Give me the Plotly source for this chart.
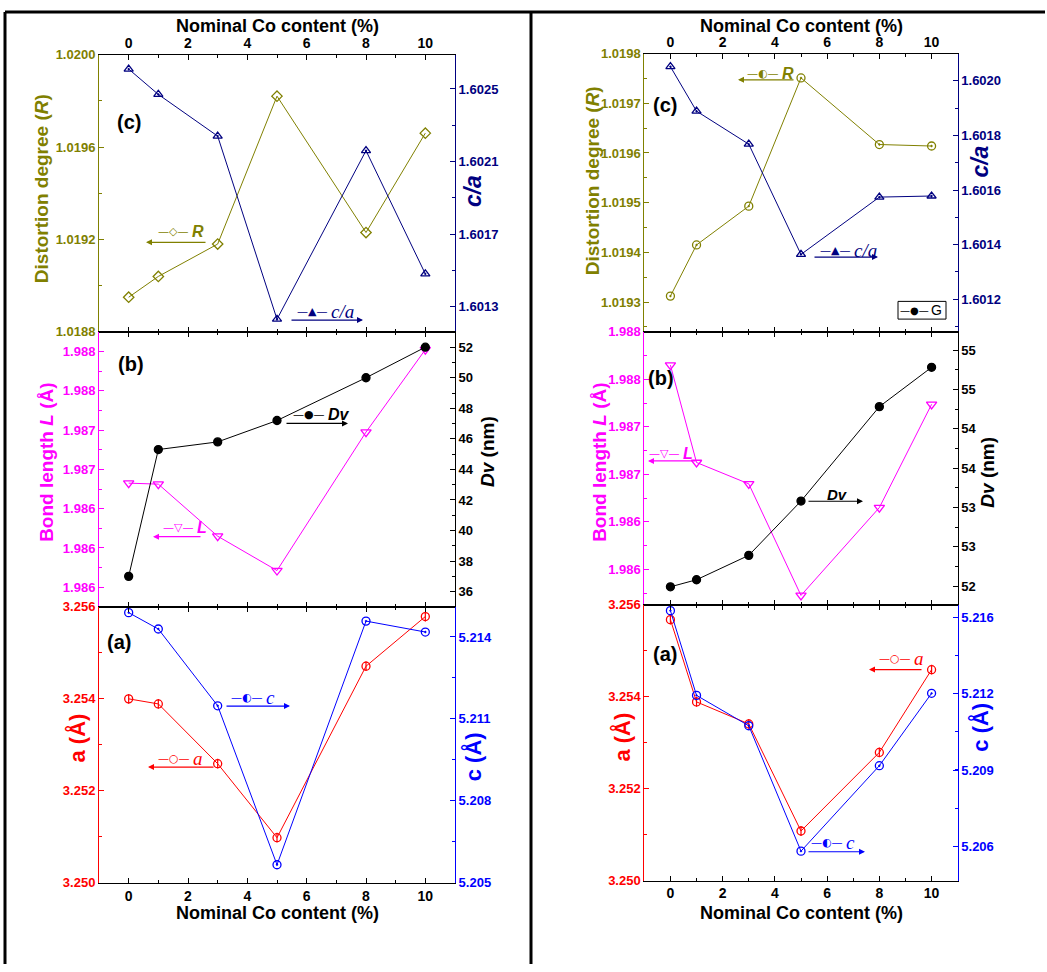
import plotly.graph_objects as go

W, H = 1047, 972

# ---------------- data ----------------
co = [0, 1, 3, 5, 8, 10]

# left column (sample set 1)
R_left = [1.01895, 1.01904, 1.01918, 1.01982, 1.01923, 1.01966]
ca_left = [1.60261, 1.60247, 1.60224, 1.60123, 1.60216, 1.60148]
L_left = [1.98666, 1.98665, 1.98612, 1.98577, 1.98718, 1.98802]
Dv_left = [37.0, 45.3, 45.8, 47.2, 50.0, 52.0]
a_left = [3.25400, 3.25389, 3.25259, 3.25098, 3.25471, 3.25579]
c_left = [5.21489, 5.21429, 5.21148, 5.20566, 5.21458, 5.21418]

# right column (sample set 2)
R_right = [1.019312, 1.019415, 1.019493, 1.019751, 1.019617, 1.019614]
ca_right = [1.602052, 1.601889, 1.601768, 1.601364, 1.601574, 1.601578]
L_right = [1.98772, 1.98690, 1.98672, 1.98578, 1.98652, 1.98739]
Dv_right = [51.99, 52.08, 52.39, 53.08, 54.28, 54.78]
a_right = [3.25568, 3.25389, 3.25341, 3.25108, 3.25279, 3.25459]
c_right = [5.21611, 5.21240, 5.21107, 5.20558, 5.20932, 5.21249]

# tick values / labels
x_ticks = [0, 2, 4, 6, 8, 10]
R_left_ticks = [1.0188, 1.0192, 1.0196, 1.0200]
R_left_labels = ["1.0188", "1.0192", "1.0196", "1.0200"]
ca_left_ticks = [1.6013, 1.6017, 1.6021, 1.6025]
ca_left_labels = ["1.6013", "1.6017", "1.6021", "1.6025"]
L_left_ticks = [1.9856, 1.9860, 1.9864, 1.9868, 1.9872, 1.9876, 1.9880]
L_left_labels = ["1.986", "1.986", "1.986", "1.987", "1.987", "1.988", "1.988"]
Dv_left_ticks = [36, 38, 40, 42, 44, 46, 48, 50, 52]
Dv_left_labels = ["36", "38", "40", "42", "44", "46", "48", "50", "52"]
a_ticks = [3.250, 3.252, 3.254, 3.256]
a_labels = ["3.250", "3.252", "3.254", "3.256"]
c_left_ticks = [5.205, 5.208, 5.211, 5.214]
c_left_labels = ["5.205", "5.208", "5.211", "5.214"]

R_right_ticks = [1.0193, 1.0194, 1.0195, 1.0196, 1.0197, 1.0198]
R_right_labels = ["1.0193", "1.0194", "1.0195", "1.0196", "1.0197", "1.0198"]
ca_right_ticks = [1.6012, 1.6014, 1.6016, 1.6018, 1.6020]
ca_right_labels = ["1.6012", "1.6014", "1.6016", "1.6018", "1.6020"]
L_right_ticks = [1.9860, 1.9864, 1.9868, 1.9872, 1.9876, 1.9880]
L_right_labels = ["1.986", "1.986", "1.987", "1.987", "1.988", "1.988"]
Dv_right_ticks = [52.0, 52.5, 53.0, 53.5, 54.0, 54.5, 55.0]
Dv_right_labels = ["52", "53", "53", "54", "54", "55", "55"]
c_right_ticks = [5.2058, 5.20913, 5.21247, 5.2158]
c_right_labels = ["5.206", "5.209", "5.212", "5.216"]

# ---------------- styling ----------------
OLIVE = "#808000"
NAVY = "#000080"
MAGENTA = "#ff00ff"
RED = "#ff0000"
BLUE = "#0000ff"
BLACK = "#000000"
SANS = "Liberation Sans, Arial, sans-serif"
SERIF = "Liberation Serif, Times New Roman, serif"
SYM = "DejaVu Sans"


def fx(p):
    return p / W


def fy(p):
    return 1 - p / H


# panel geometry (pixels)
col_x = {"L": (99, 455), "R": (644.3, 957.7)}
rows = {
    "L": {"c": (48.3, 330), "b": (330, 609.3), "a": (609.3, 889.5)},
    "R": {"c": (47.3, 330), "b": (330, 607.3), "a": (607.3, 887.3)},
}

fig = go.Figure()
layout = dict(
    width=W, height=H, margin=dict(l=0, r=0, t=0, b=0), autosize=False,
    paper_bgcolor="white", plot_bgcolor="white", showlegend=False,
    font=dict(family=SANS, color="black"),
)

panels = [
    ("L", "c",
     dict(y=R_left, color=OLIVE, symbol="diamond-open", size=8, rng=[1.0188, 1.0200],
          tv=R_left_ticks, tt=R_left_labels, minor=0.0002),
     dict(y=ca_left, color=NAVY, symbol="triangle-up-open-dot", size=8, rng=[1.60116, 1.60269],
          tv=ca_left_ticks, tt=ca_left_labels, minor=0.0002, m0=1.6013)),
    ("L", "b",
     dict(y=L_left, color=MAGENTA, symbol="triangle-down-open", size=9, rng=[1.9854, 1.9882],
          tv=L_left_ticks, tt=L_left_labels, minor=0.0002),
     dict(y=Dv_left, color=BLACK, symbol="circle", size=8, rng=[35, 53],
          tv=Dv_left_ticks, tt=Dv_left_labels, minor=1)),
    ("L", "a",
     dict(y=a_left, color=RED, symbol="circle-open", size=8, rng=[3.250, 3.256],
          tv=a_ticks, tt=a_labels, minor=0.001, stem=True),
     dict(y=c_left, color=BLUE, symbol="circle-open-dot", size=8, rng=[5.205, 5.2151],
          tv=c_left_ticks, tt=c_left_labels, minor=0.0015, m0=5.205)),
    ("R", "c",
     dict(y=R_right, color=OLIVE, symbol="circle-open-dot", size=8, rng=[1.01924, 1.0198],
          tv=R_right_ticks, tt=R_right_labels, minor=0.00005, m0=1.0193),
     dict(y=ca_right, color=NAVY, symbol="triangle-up-open-dot", size=8, rng=[1.60108, 1.60210],
          tv=ca_right_ticks, tt=ca_right_labels, minor=0.0001, m0=1.6012)),
    ("R", "b",
     dict(y=L_right, color=MAGENTA, symbol="triangle-down-open", size=9, rng=[1.9857, 1.9880],
          tv=L_right_ticks, tt=L_right_labels, minor=0.0002, m0=1.9860),
     dict(y=Dv_right, color=BLACK, symbol="circle", size=8, rng=[51.76, 55.23],
          tv=Dv_right_ticks, tt=Dv_right_labels, minor=0.25, m0=52.0)),
    ("R", "a",
     dict(y=a_right, color=RED, symbol="circle-open", size=8, rng=[3.250, 3.256],
          tv=a_ticks, tt=a_labels, minor=0.001, stem=True),
     dict(y=c_right, color=BLUE, symbol="circle-open-dot", size=8, rng=[5.20429, 5.21636],
          tv=c_right_ticks, tt=c_right_labels, minor=0.0016667, m0=5.2058)),
]

n = len(panels)
for i, (col, row, lcfg, rcfg) in enumerate(panels, start=1):
    xd = [fx(col_x[col][0]), fx(col_x[col][1])]
    y0, y1 = rows[col][row]
    yd = [fy(y1), fy(y0)]
    xref = f"x{i}"
    yref_l = f"y{i}"
    yref_r = f"y{i + n}"
    side = "top" if row == "c" else "bottom"
    layout[f"xaxis{i}"] = dict(
        domain=xd, anchor=yref_l, range=[-1, 11], side=side,
        tickvals=x_ticks, showticklabels=(row != "b"),
        ticks="inside", ticklen=5, tickcolor="black", showline=True, linecolor="black",
        linewidth=1, mirror="ticks", showgrid=False, zeroline=False,
        tickfont=dict(size=14, family=SANS, color="black", weight="bold"),
        minor=dict(dtick=1, tick0=1, ticks="inside", ticklen=3, tickcolor="black"),
    )
    for (axname, cfg, sd, tr_y) in ((f"yaxis{i}", lcfg, "left", yref_l),
                                    (f"yaxis{i + n}", rcfg, "right", yref_r)):
        ax = dict(
            domain=yd, anchor=xref, range=cfg["rng"], side=sd,
            tickvals=cfg["tv"], ticktext=cfg["tt"], ticks="inside", ticklen=5,
            tickcolor=cfg["color"], showline=True, linecolor=cfg["color"], linewidth=1,
            showgrid=False, zeroline=False,
            tickfont=dict(size=13, family=SANS, color=cfg["color"], weight="bold"),
            minor=dict(dtick=cfg["minor"], tick0=cfg.get("m0", cfg["tv"][0]), ticks="inside",
                       ticklen=3, tickcolor=cfg["color"]),
        )
        if sd == "right":
            ax["overlaying"] = yref_l
        layout[axname] = ax
        mk = dict(symbol=cfg["symbol"], size=cfg["size"], color=cfg["color"],
                  line=dict(color=cfg["color"], width=1.3))
        fig.add_trace(go.Scatter(
            x=co, y=cfg["y"], xaxis=xref, yaxis=tr_y, mode="lines+markers",
            line=dict(color=cfg["color"], width=1), marker=mk, showlegend=False,
        ))
        if cfg.get("stem"):
            # vertical bar inside the open circle (Origin "circle with stem" symbol)
            fig.add_trace(go.Scatter(
                x=co, y=cfg["y"], xaxis=xref, yaxis=tr_y, mode="markers",
                marker=dict(symbol="line-ns", size=7, line=dict(color=cfg["color"], width=1.2)),
                showlegend=False, hoverinfo="skip",
            ))

ann = []


def text(x, y, s, size, color="black", family=SANS, angle=0, xanchor="center"):
    ann.append(dict(x=fx(x), y=fy(y), xref="paper", yref="paper", text=s, showarrow=False,
                    textangle=angle, xanchor=xanchor, yanchor="middle",
                    font=dict(size=size, color=color, family=family)))


def arrow(x_tail, x_head, y, color):
    ann.append(dict(x=fx(x_head), y=fy(y), xref="paper", yref="paper", text="",
                    showarrow=True, ax=x_tail - x_head, ay=0, arrowhead=2, arrowsize=1,
                    arrowwidth=1.2, arrowcolor=color, standoff=0, startstandoff=0))


# x-axis titles
for cx in (277, 801):
    text(cx, 19, "<b>Nominal Co content (%)</b>", 18)
    text(cx, 920, "<b>Nominal Co content (%)</b>", 18)

# y-axis titles (left column)
text(41, 185, "<b>Distortion degree (<i>R</i>)</b>", 19, OLIVE, angle=-90)
text(473, 187, "<b><i>c/a</i></b>", 23, NAVY, angle=-90)
text(47, 463, "<b>Bond length <i>L</i> (Å)</b>", 19, MAGENTA, angle=-90)
text(487, 452, "<b><i>Dv</i> (nm)</b>", 19, BLACK, angle=-90)
text(77, 743, "<b>a (Å)</b>", 22, RED, angle=-90)
text(473, 762, "<b>c (Å)</b>", 22, BLUE, angle=-90)
# y-axis titles (right column)
text(592, 177, "<b>Distortion degree (<i>R</i>)</b>", 19, OLIVE, angle=-90)
text(980, 157, "<b><i>c/a</i></b>", 23, NAVY, angle=-90)
text(600, 463, "<b>Bond length <i>L</i> (Å)</b>", 19, MAGENTA, angle=-90)
text(988, 473, "<b><i>Dv</i> (nm)</b>", 19, BLACK, angle=-90)
text(622, 742, "<b>a (Å)</b>", 22, RED, angle=-90)
text(980, 732, "<b>c (Å)</b>", 22, BLUE, angle=-90)

# panel labels
for (x, y, s) in [(129, 117, "(c)"), (131, 363, "(b)"), (119, 645, "(a)"),
                  (665, 100, "(c)"), (661, 377, "(b)"), (665, 657, "(a)")]:
    text(x, y, f"<b>{s}</b>", 20)

# in-plot series keys with arrows
keys = [
    (173, 228, "—◇—", "<i>R</i>", SANS, OLIVE, 207, 146, 239),
    (312, 309, "—▲—", "<i>c/a</i>", SERIF, NAVY, 290, 363, 318),
    (309, 414, "—●—", "<i>Dv</i>", SANS, BLACK, 285, 348, 423),
    (178, 529, "—▽—", "<i>L</i>", SANS, MAGENTA, 202, 153, 538),
    (247, 701, "—◐—", "<i>c</i>", SERIF, BLUE, 225, 290, 710),
    (174, 763, "—○—", "<i>a</i>", SERIF, RED, 215, 148, 772),
    (763, 68, "—◐—", "<i>R</i>", SANS, OLIVE, 795, 738, 74),
    (835, 247, "—▲—", "<i>c/a</i>", SERIF, NAVY, 813, 878, 254),
    (664, 453, "—▽—", "<i>L</i>", SANS, MAGENTA, 697, 648, 461),
    (895, 662, "—○—", "<i>a</i>", SERIF, RED, 923, 869, 673),
    (827, 849, "—◐—", "<i>c</i>", SERIF, BLUE, 807, 865, 858),
]
for (mx, my, sym, lab, fam, colr, xt, xh, ay) in keys:
    text(mx, my, sym, 11, colr, family=SYM)
    text(mx + 17, my, f"<b>{lab}</b>" if fam == SANS else lab, 16 if fam == SANS else 19,
         colr, family=fam, xanchor="left")
    arrow(xt, xh, ay, colr)
# right column Dv key (text only)
text(837, 495, "<b><i>Dv</i></b>", 15, BLACK)
arrow(807, 863, 502, BLACK)

# small "G" key box in the right top panel
text(914, 308, "—●—", 10, BLACK, family=SYM)
text(929, 308, "G", 14, BLACK, xanchor="left")

layout["annotations"] = ann

shapes = []
# outer frame lines
for (x0, y0, x1, y1) in [(5, 5, 1045, 5), (5, 5, 5, 972), (531, 5, 531, 972)]:
    shapes.append(dict(type="line", xref="paper", yref="paper", x0=fx(x0), y0=fy(y0),
                       x1=fx(x1), y1=fy(y1), line=dict(color="black", width=3)))
shapes.append(dict(type="rect", xref="paper", yref="paper", x0=fx(898), y0=fy(317),
                   x1=fx(946), y1=fy(299), line=dict(color="black", width=1),
                   fillcolor="white", layer="below"))
layout["shapes"] = shapes

fig.update_layout(**layout)
fig.write_html(
    "out.html", config={"displayModeBar": False},
    post_script=("document.body.style.margin='0';document.body.style.padding='0';"
                 "document.body.style.overflow='hidden';"
                 "document.documentElement.style.overflow='hidden';"),
)
